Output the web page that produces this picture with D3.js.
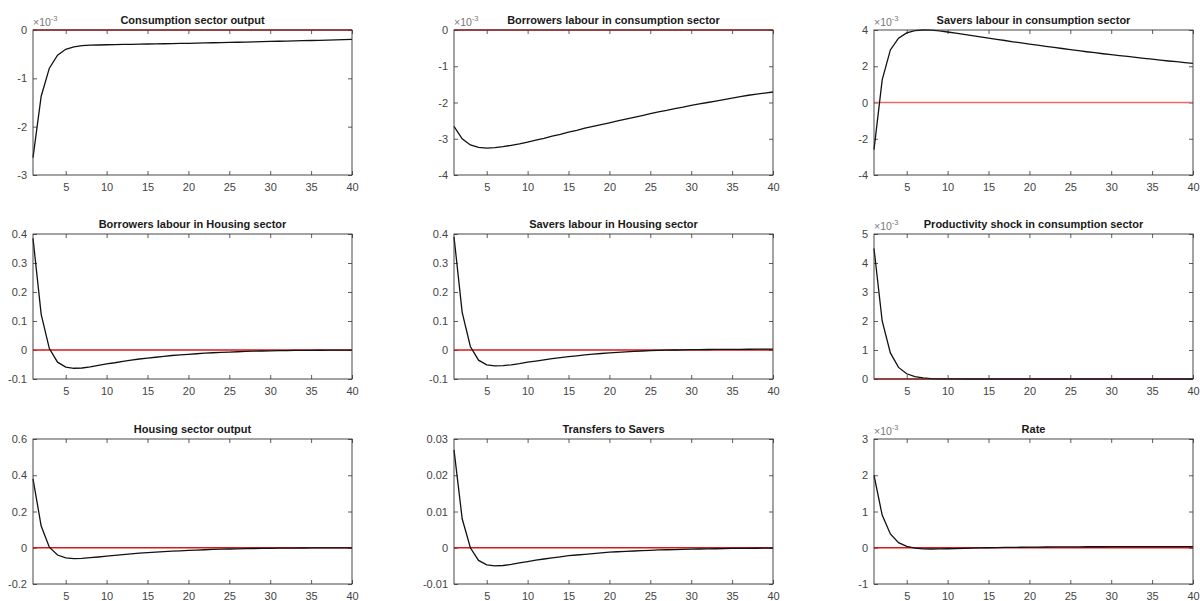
<!DOCTYPE html>
<html>
<head>
<meta charset="utf-8">
<script src="https://cdn.jsdelivr.net/npm/d3@7"></script>
<style>
  body { margin: 0; background: #fff; }
  text { font-family: "Liberation Sans", Arial, sans-serif; }
</style>
</head>
<body>
<div id="chart"></div>
<script>
const width = 1200;
const height = 601;

// periods 1..40
const periods = d3.range(1, 41);
const xTicks = [5, 10, 15, 20, 25, 30, 35, 40];

const titles = [
  "Consumption sector output",
  "Borrowers labour in consumption sector",
  "Savers labour in consumption sector",
  "Borrowers labour in Housing sector",
  "Savers labour in Housing sector",
  "Productivity shock in consumption sector",
  "Housing sector output",
  "Transfers to Savers",
  "Rate"
];

// y ranges and tick labels per panel
const yDomains = [[-3, 0], [-4, 0], [-4, 4], [-0.1, 0.4], [-0.1, 0.4], [0, 5], [-0.2, 0.6], [-0.01, 0.03], [-1, 3]];
const yTicks = [
  [-3, -2, -1, 0],
  [-4, -3, -2, -1, 0],
  [-4, -2, 0, 2, 4],
  [-0.1, 0, 0.1, 0.2, 0.3, 0.4],
  [-0.1, 0, 0.1, 0.2, 0.3, 0.4],
  [0, 1, 2, 3, 4, 5],
  [-0.2, 0, 0.2, 0.4, 0.6],
  [-0.01, 0, 0.01, 0.02, 0.03],
  [-1, 0, 1, 2, 3]
];
// which panels show a x10^-3 exponent label
const scaled = [true, true, true, false, false, true, false, false, true];

// impulse responses (values as shown on each axis)
const consOutput = [-2.64, -1.37, -0.79, -0.52, -0.40, -0.35, -0.325, -0.315, -0.31, -0.305,
  -0.302, -0.299, -0.296, -0.293, -0.29, -0.287, -0.284, -0.281, -0.278, -0.275,
  -0.271, -0.268, -0.264, -0.261, -0.257, -0.253, -0.249, -0.245, -0.241, -0.237,
  -0.233, -0.229, -0.225, -0.221, -0.217, -0.213, -0.208, -0.204, -0.2, -0.196];
const borrowLabCons = [-2.66, -3.0, -3.17, -3.24, -3.26, -3.245, -3.22, -3.18, -3.14, -3.09,
  -3.04, -2.99, -2.93, -2.88, -2.82, -2.77, -2.71, -2.66, -2.61, -2.56,
  -2.51, -2.46, -2.41, -2.36, -2.31, -2.26, -2.22, -2.17, -2.13, -2.08,
  -2.04, -2.0, -1.96, -1.92, -1.88, -1.84, -1.80, -1.77, -1.74, -1.71];
const saverLabCons = [-2.6, 1.25, 2.9, 3.55, 3.84, 3.96, 4.0, 3.99, 3.95, 3.89,
  3.83, 3.76, 3.69, 3.62, 3.55, 3.48, 3.42, 3.35, 3.29, 3.22,
  3.16, 3.10, 3.04, 2.98, 2.92, 2.86, 2.80, 2.75, 2.69, 2.64,
  2.59, 2.54, 2.49, 2.44, 2.39, 2.34, 2.29, 2.25, 2.2, 2.16];
const borrowLabHouse = [0.385, 0.123, 0.005, -0.042, -0.059, -0.063, -0.062, -0.058, -0.053, -0.048,
  -0.044, -0.039, -0.035, -0.031, -0.028, -0.025, -0.022, -0.019, -0.017, -0.015,
  -0.013, -0.011, -0.0095, -0.008, -0.007, -0.006, -0.005, -0.0042, -0.0035, -0.003,
  -0.0025, -0.002, -0.0016, -0.0013, -0.001, -0.0008, -0.0006, -0.0004, -0.0003, -0.0002];
const saverLabHouse = [0.39, 0.13, 0.012, -0.035, -0.051, -0.055, -0.054, -0.051, -0.047, -0.042,
  -0.038, -0.034, -0.03, -0.026, -0.023, -0.02, -0.017, -0.014, -0.012, -0.01,
  -0.008, -0.0065, -0.005, -0.0035, -0.0025, -0.0015, -0.0007, 0.0, 0.0005, 0.001,
  0.0014, 0.0017, 0.002, 0.0022, 0.0024, 0.0025, 0.0026, 0.0027, 0.0027, 0.0028];
const prodShock = [4.5, 2.0, 0.9, 0.4, 0.18, 0.08, 0.036, 0.016, 0.007, 0.003,
  0.0014, 0.0006, 0.0003, 0.0001, 0, 0, 0, 0, 0, 0,
  0, 0, 0, 0, 0, 0, 0, 0, 0, 0,
  0, 0, 0, 0, 0, 0, 0, 0, 0, 0];
const houseOutput = [0.38, 0.12, 0.003, -0.04, -0.056, -0.06, -0.059, -0.055, -0.051, -0.046,
  -0.042, -0.038, -0.034, -0.030, -0.027, -0.024, -0.021, -0.019, -0.017, -0.015,
  -0.013, -0.011, -0.0095, -0.008, -0.007, -0.006, -0.005, -0.0042, -0.0035, -0.003,
  -0.0025, -0.002, -0.0016, -0.0013, -0.001, -0.0008, -0.0006, -0.0004, -0.0003, -0.0002];
const transfers = [0.027, 0.008, 0.0, -0.0035, -0.0047, -0.005, -0.0049, -0.0046, -0.0042, -0.0038,
  -0.0034, -0.0031, -0.0028, -0.0025, -0.0022, -0.002, -0.0018, -0.0016, -0.0014, -0.0012,
  -0.0011, -0.001, -0.0009, -0.0008, -0.0007, -0.0006, -0.00055, -0.0005, -0.00045, -0.0004,
  -0.00035, -0.0003, -0.00027, -0.00024, -0.0002, -0.00018, -0.00016, -0.00014, -0.00012, -0.0001];
const rate = [2.0, 0.9, 0.38, 0.14, 0.04, -0.01, -0.03, -0.035, -0.033, -0.028,
  -0.022, -0.016, -0.01, -0.005, 0.0, 0.004, 0.008, 0.011, 0.014, 0.017,
  0.019, 0.021, 0.023, 0.024, 0.025, 0.026, 0.027, 0.028, 0.028, 0.029,
  0.029, 0.03, 0.03, 0.03, 0.03, 0.03, 0.03, 0.03, 0.03, 0.03];

const series = [consOutput, borrowLabCons, saverLabCons, borrowLabHouse, saverLabHouse,
  prodShock, houseOutput, transfers, rate];

// the zero line in the savers panel is drawn lighter in the original
const zeroColors = ['#d81818', '#d81818', '#f06868', '#d81818', '#d81818', '#d81818', '#d81818', '#d81818', '#d81818'];

const colLeft = [33, 454, 874];
const rowTop = [30, 234, 439];
const pw = 319;
const ph = 145;

const svg = d3.select('#chart')
  .append('svg')
  .attr('width', width)
  .attr('height', height);

const fmt = d => String(+d.toFixed(4));

series.forEach((vals, i) => {
  const left = colLeft[i % 3];
  const top = rowTop[Math.floor(i / 3)];

  const x = d3.scaleLinear().domain([1, 40]).range([0, pw]);
  const y = d3.scaleLinear().domain(yDomains[i]).range([ph, 0]);

  const g = svg.append('g')
    .attr('transform', `translate(${left}, ${top})`);

  // ticks point inward, matlab style, on all four sides
  g.append('g')
    .attr('transform', `translate(0, ${ph})`)
    .call(d3.axisBottom(x).tickValues(xTicks).tickSize(-4).tickSizeOuter(0).tickPadding(8).tickFormat(d3.format('d')));
  g.append('g')
    .call(d3.axisTop(x).tickValues(xTicks).tickSize(-4).tickSizeOuter(0).tickFormat(''));
  g.append('g')
    .call(d3.axisLeft(y).tickValues(yTicks[i]).tickSize(-4).tickSizeOuter(0).tickPadding(6).tickFormat(fmt));
  g.append('g')
    .attr('transform', `translate(${pw}, 0)`)
    .call(d3.axisRight(y).tickValues(yTicks[i]).tickSize(-4).tickSizeOuter(0).tickFormat(''));

  g.selectAll('.domain').remove();
  g.selectAll('.tick line').attr('stroke', '#333').attr('stroke-width', 0.8);
  g.selectAll('.tick text')
    .attr('fill', '#444')
    .style('font-size', '11px')
    .style('font-family', '"Liberation Sans", Arial, sans-serif');

  // zero line
  g.append('line')
    .attr('x1', 0).attr('x2', pw)
    .attr('y1', y(0)).attr('y2', y(0))
    .attr('stroke', zeroColors[i])
    .attr('stroke-width', 1.4);

  const line = d3.line()
    .x((d, j) => x(periods[j]))
    .y(d => y(d));

  g.append('path')
    .datum(vals)
    .attr('d', line)
    .attr('fill', 'none')
    .attr('stroke', '#111')
    .attr('stroke-width', 1.3);

  // box
  g.append('rect')
    .attr('width', pw).attr('height', ph)
    .attr('fill', 'none')
    .attr('stroke', '#333')
    .attr('stroke-width', 0.9);

  g.append('text')
    .attr('x', pw / 2)
    .attr('y', -6)
    .attr('text-anchor', 'middle')
    .style('font-size', '11px')
    .style('font-weight', 'bold')
    .attr('fill', '#1a1a1a')
    .text(titles[i]);

  if (scaled[i]) {
    const t = g.append('text')
      .attr('x', 0)
      .attr('y', -4)
      .attr('fill', '#777')
      .style('font-size', '10.5px');
    t.append('tspan').text('\u00d710');
    t.append('tspan').attr('dy', -5).style('font-size', '7.5px').text('-3');
  }
});
</script>
</body>
</html>
